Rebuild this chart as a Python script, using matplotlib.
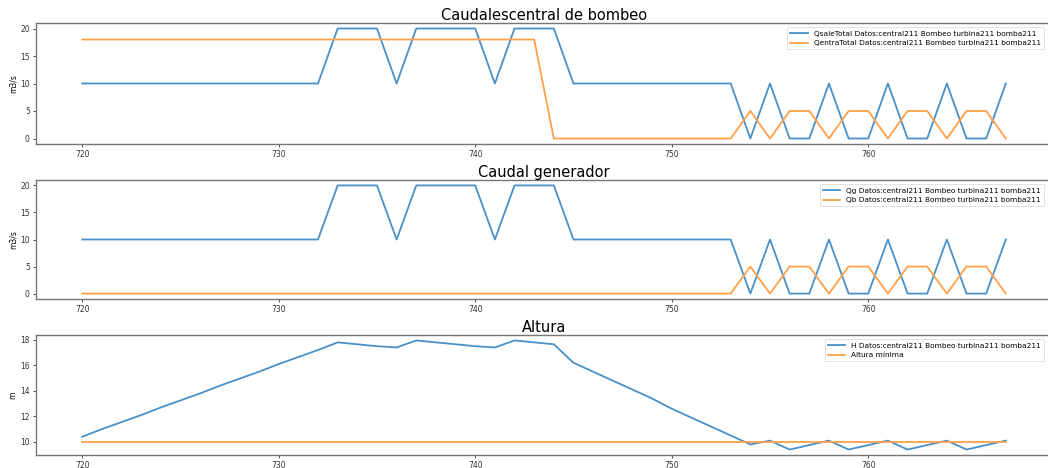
import matplotlib.pyplot as plt

# eje temporal (horas)
horas = list(range(720, 768))

q_sale = [10, 10, 10, 10, 10, 10, 10, 10, 10, 10, 10, 10, 10,
          20, 20, 20, 10, 20, 20, 20, 20, 10, 20, 20, 20,
          10, 10, 10, 10, 10, 10, 10, 10, 10,
          0, 10, 0, 0, 10, 0, 0, 10, 0, 0, 10, 0, 0, 10]
q_entra = [18, 18, 18, 18, 18, 18, 18, 18, 18, 18, 18, 18, 18,
           18, 18, 18, 18, 18, 18, 18, 18, 18, 18, 18,
           0, 0, 0, 0, 0, 0, 0, 0, 0, 0,
           5, 0, 5, 5, 0, 5, 5, 0, 5, 5, 0, 5, 5, 0]
q_g = [10, 10, 10, 10, 10, 10, 10, 10, 10, 10, 10, 10, 10,
       20, 20, 20, 10, 20, 20, 20, 20, 10, 20, 20, 20,
       10, 10, 10, 10, 10, 10, 10, 10, 10,
       0, 10, 0, 0, 10, 0, 0, 10, 0, 0, 10, 0, 0, 10]
q_b = [0, 0, 0, 0, 0, 0, 0, 0, 0, 0, 0, 0, 0, 0, 0, 0, 0,
       0, 0, 0, 0, 0, 0, 0, 0, 0, 0, 0, 0, 0, 0, 0, 0, 0,
       5, 0, 5, 5, 0, 5, 5, 0, 5, 5, 0, 5, 5, 0]
altura = [10.4, 11.0, 11.55, 12.1, 12.7, 13.25, 13.8, 14.4, 14.95, 15.5, 16.1, 16.65, 17.2,
          17.8, 17.65, 17.5, 17.4, 17.95, 17.8, 17.65, 17.5, 17.4, 17.95, 17.8, 17.65,
          16.2, 15.5, 14.8, 14.1, 13.4, 12.6, 11.9, 11.2, 10.5,
          9.8, 10.1, 9.4, 9.75, 10.1, 9.4, 9.75, 10.1, 9.4, 9.75, 10.1, 9.4, 9.75, 10.1]
altura_min = [10] * len(horas)

etiq_sale = 'QsaleTotal Datos:central211 Bombeo turbina211 bomba211'
etiq_entra = 'QentraTotal Datos:central211 Bombeo turbina211 bomba211'
etiq_g = 'Qg Datos:central211 Bombeo turbina211 bomba211'
etiq_b = 'Qb Datos:central211 Bombeo turbina211 bomba211'
etiq_h = 'H Datos:central211 Bombeo turbina211 bomba211'

W, H = 1048, 468
fig = plt.figure(figsize=(W / 100, H / 100), dpi=100)


def caja(top, bottom, left=36, right=1052):
    return [left / W, 1 - bottom / H, (right - left) / W, (bottom - top) / H]


paneles = [
    (caja(23, 144), 'Caudalescentral de bombeo', 'm3/s',
     [(q_sale, etiq_sale), (q_entra, etiq_entra)]),
    (caja(180, 299), 'Caudal generador', 'm3/s',
     [(q_g, etiq_g), (q_b, etiq_b)]),
    (caja(335, 455), 'Altura', 'm',
     [(altura, etiq_h), (altura_min, 'Altura mínima')]),
]

colores = ['#4a90c8', '#ffa04a']

for pos, titulo, unidad, series in paneles:
    ax = fig.add_axes(pos)
    for (valores, etiqueta), c in zip(series, colores):
        ax.plot(horas, valores, label=etiqueta, lw=1.3, color=c)
    ax.set_title(titulo, fontsize=10.5, pad=2)
    ax.set_ylabel(unidad, fontsize=5.5, labelpad=2)
    ax.set_xticks([720, 730, 740, 750, 760])
    ax.tick_params(labelsize=5.5, length=2.5, width=0.6, pad=2, colors='#333333')
    for s in ax.spines.values():
        s.set_color('#777777')
        s.set_linewidth(1.0)
    leg = ax.legend(loc='upper right', fontsize=5.3, bbox_to_anchor=(0.9965, 1.0),
                    borderaxespad=0.6, handlelength=2.4, framealpha=0.8)
    leg.get_frame().set_linewidth(0.5)

plt.savefig('out.png', dpi=100)
